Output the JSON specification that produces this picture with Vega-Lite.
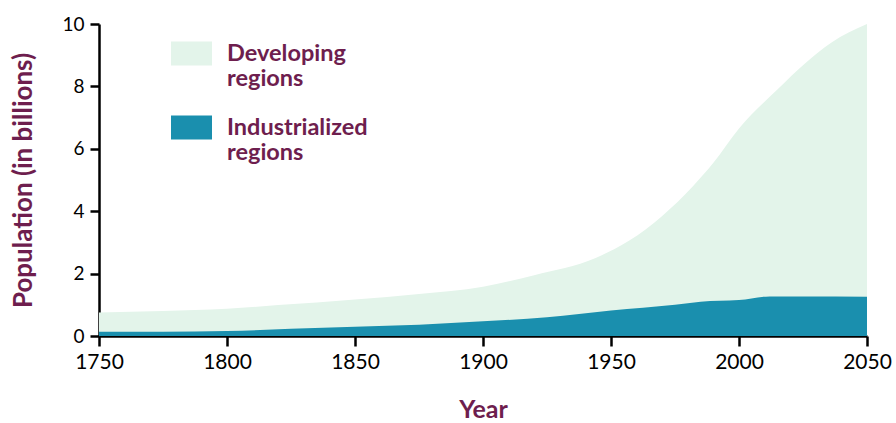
{
  "$schema": "https://vega.github.io/schema/vega-lite/v6.json",
  "width": 768,
  "height": 312,
  "autosize": "none",
  "padding": {"left": 99, "top": 24, "right": 29, "bottom": 87},
  "background": "#ffffff",
  "config": {
    "view": {"stroke": null},
    "font": "Lato"
  },
  "data": {
    "values": [
      {"year": 1750, "series": "Developing regions", "value": 0.75},
      {"year": 1775, "series": "Developing regions", "value": 0.8},
      {"year": 1800, "series": "Developing regions", "value": 0.87},
      {"year": 1820, "series": "Developing regions", "value": 0.99},
      {"year": 1850, "series": "Developing regions", "value": 1.17},
      {"year": 1875, "series": "Developing regions", "value": 1.35},
      {"year": 1900, "series": "Developing regions", "value": 1.58},
      {"year": 1920, "series": "Developing regions", "value": 1.95},
      {"year": 1944, "series": "Developing regions", "value": 2.5},
      {"year": 1957, "series": "Developing regions", "value": 3.05},
      {"year": 1970, "series": "Developing regions", "value": 3.85},
      {"year": 1982, "series": "Developing regions", "value": 4.8},
      {"year": 1990, "series": "Developing regions", "value": 5.55},
      {"year": 2000, "series": "Developing regions", "value": 6.65},
      {"year": 2015, "series": "Developing regions", "value": 7.9},
      {"year": 2026, "series": "Developing regions", "value": 8.75},
      {"year": 2036, "series": "Developing regions", "value": 9.4},
      {"year": 2050, "series": "Developing regions", "value": 10.0},
      {"year": 1750, "series": "Industrialized regions", "value": 0.14},
      {"year": 1775, "series": "Industrialized regions", "value": 0.14},
      {"year": 1800, "series": "Industrialized regions", "value": 0.16},
      {"year": 1825, "series": "Industrialized regions", "value": 0.23},
      {"year": 1850, "series": "Industrialized regions", "value": 0.3},
      {"year": 1875, "series": "Industrialized regions", "value": 0.36},
      {"year": 1900, "series": "Industrialized regions", "value": 0.47},
      {"year": 1925, "series": "Industrialized regions", "value": 0.6},
      {"year": 1950, "series": "Industrialized regions", "value": 0.82},
      {"year": 1975, "series": "Industrialized regions", "value": 1.0},
      {"year": 1985, "series": "Industrialized regions", "value": 1.1},
      {"year": 2000, "series": "Industrialized regions", "value": 1.15},
      {"year": 2012, "series": "Industrialized regions", "value": 1.27},
      {"year": 2025, "series": "Industrialized regions", "value": 1.27},
      {"year": 2050, "series": "Industrialized regions", "value": 1.26}
    ]
  },
  "encoding": {
    "x": {
      "field": "year",
      "type": "quantitative",
      "scale": {"domain": [1750, 2050], "nice": false, "zero": false},
      "axis": {
        "title": "Year",
        "values": [1750, 1800, 1850, 1900, 1950, 2000, 2050],
        "format": "d",
        "grid": false,
        "domainColor": "#000000",
        "domainWidth": 2.5,
        "tickColor": "#000000",
        "tickWidth": 2.5,
        "tickSize": 10,
        "labelFont": "Lato",
        "labelFontSize": 21,
        "labelColor": "#000000",
        "labelPadding": 5,
        "labelFlush": false,
        "titleFont": "Lato",
        "titleFontSize": 25,
        "titleFontWeight": "bold",
        "titleColor": "#6E1E4E",
        "titlePadding": 25
      }
    },
    "y": {
      "field": "value",
      "type": "quantitative",
      "stack": null,
      "scale": {"domain": [0, 10], "nice": false},
      "axis": {
        "title": "Population (in billions)",
        "values": [0, 2, 4, 6, 8, 10],
        "grid": false,
        "domainColor": "#000000",
        "domainWidth": 2.5,
        "tickColor": "#000000",
        "tickWidth": 2.5,
        "tickSize": 9,
        "labelFont": "Lato",
        "labelFontSize": 19,
        "labelColor": "#000000",
        "labelPadding": 6,
        "labelFlush": false,
        "titleFont": "Lato",
        "titleFontSize": 26,
        "titleFontWeight": "bold",
        "titleColor": "#6E1E4E",
        "titlePadding": 25
      }
    },
    "color": {
      "field": "series",
      "type": "nominal",
      "scale": {
        "domain": ["Developing regions", "Industrialized regions"],
        "range": ["#E3F4EA", "#1A8FAE"]
      },
      "legend": {
        "title": null,
        "orient": "none",
        "legendX": 72,
        "legendY": 9,
        "padding": 0,
        "symbolType": "M-1,-0.585H1V0.585H-1Z",
        "symbolSize": 1681,
        "symbolStrokeWidth": 0,
        "symbolOpacity": 1,
        "labelExpr": "split(datum.label, ' ')",
        "labelFont": "Lato",
        "labelFontSize": 23.5,
        "labelFontWeight": "bold",
        "labelColor": "#6E1E4E",
        "labelLineHeight": 30,
        "labelBaseline": "middle",
        "labelOffset": 15,
        "labelLimit": 300,
        "rowPadding": 16
      }
    }
  },
  "layer": [
    {
      "transform": [{"filter": "datum.series === 'Developing regions'"}],
      "mark": {"type": "area", "interpolate": "monotone", "opacity": 1}
    },
    {
      "transform": [{"filter": "datum.series === 'Industrialized regions'"}],
      "mark": {"type": "area", "interpolate": "monotone", "opacity": 1}
    }
  ]
}
